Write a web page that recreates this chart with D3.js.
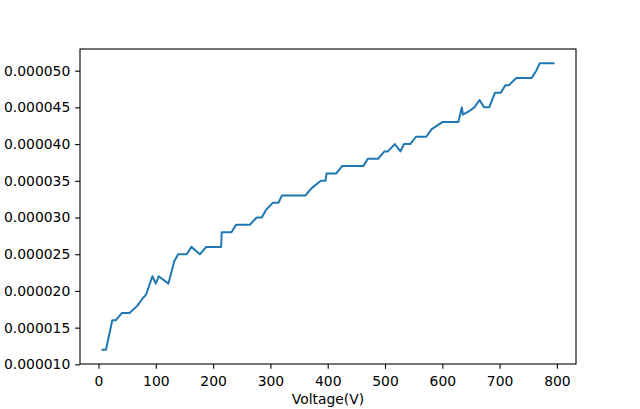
<!DOCTYPE html>
<html>
<head>
<meta charset="utf-8">
<script src="https://cdn.jsdelivr.net/npm/d3@7"></script>
<style>
  body { margin: 0; background: white; }
  svg { display: block; font-family: "DejaVu Sans", sans-serif; }
  .tick text { font-size: 13.9px; fill: black; font-family: "DejaVu Sans", sans-serif; }
  .tick line, .domain { stroke: black; stroke-width: 1.1px; }
  .axis-title { font-size: 13.9px; fill: black; text-anchor: middle; }
  .data-line { fill: none; stroke: #1f77b4; stroke-width: 2px; stroke-linejoin: round; stroke-linecap: square; }
</style>
</head>
<body>
<div id="chart"></div>
<script>
//////////////////////////////////////////////////////////////
//////////////////////// Data ////////////////////////////////
//////////////////////////////////////////////////////////////

//Voltage (V) at each vertex of the line
const voltage = [7, 13, 24, 30, 41, 54, 68, 77, 83, 94, 100, 105, 122, 132, 139, 154, 162, 177, 188, 214, 215, 232, 240, 264, 276, 285, 292, 304, 314, 320, 333, 361, 372, 388, 396, 398, 415, 425, 462, 470, 488, 499, 505, 517, 527, 533, 544, 554, 572, 581, 600, 628, 631, 634, 636, 647, 656, 665, 673, 682, 692, 702, 710, 716, 729, 756, 764, 770, 794]
//Measured value at each voltage
const current = [1.2e-5, 1.2e-5, 1.6e-5, 1.6e-5, 1.7e-5, 1.7e-5, 1.8e-5, 1.9e-5, 1.95e-5, 2.2e-5, 2.1e-5, 2.2e-5, 2.1e-5, 2.4e-5, 2.5e-5, 2.5e-5, 2.6e-5, 2.5e-5, 2.6e-5, 2.6e-5, 2.8e-5, 2.8e-5, 2.9e-5, 2.9e-5, 3.0e-5, 3.0e-5, 3.1e-5, 3.2e-5, 3.2e-5, 3.3e-5, 3.3e-5, 3.3e-5, 3.4e-5, 3.5e-5, 3.5e-5, 3.6e-5, 3.6e-5, 3.7e-5, 3.7e-5, 3.8e-5, 3.8e-5, 3.9e-5, 3.9e-5, 4.0e-5, 3.9e-5, 4.0e-5, 4.0e-5, 4.1e-5, 4.1e-5, 4.2e-5, 4.3e-5, 4.3e-5, 4.4e-5, 4.5e-5, 4.4e-5, 4.45e-5, 4.5e-5, 4.6e-5, 4.5e-5, 4.5e-5, 4.7e-5, 4.7e-5, 4.8e-5, 4.8e-5, 4.9e-5, 4.9e-5, 5.0e-5, 5.1e-5, 5.1e-5]

const xTicks = [0, 100, 200, 300, 400, 500, 600, 700, 800]
const yTicks = [0.00001, 0.000015, 0.00002, 0.000025, 0.00003, 0.000035, 0.00004, 0.000045, 0.00005]
const xTitle = "Voltage(V)"

//////////////////////////////////////////////////////////////
//////////////////////// Create SVG //////////////////////////
//////////////////////////////////////////////////////////////

const W = 640
const H = 409
const margin = { top: 49, right: 64, bottom: 45, left: 80 }
const width = W - margin.left - margin.right
const height = H - margin.top - margin.bottom

const svg = d3.select("#chart")
    .append("svg")
    .attr("width", W)
    .attr("height", H)
    .append("g")
    .attr("transform", "translate(" + margin.left + "," + margin.top + ")")

const data = voltage.map((v, i) => ({ v: v, c: current[i] }))

//Matplotlib-style 5% padding on each side
function padded(ext) {
    const pad = (ext[1] - ext[0]) * 0.05
    return [ext[0] - pad, ext[1] + pad]
}

const x = d3.scaleLinear()
    .domain(padded(d3.extent(voltage)))
    .range([0, width])

const y = d3.scaleLinear()
    .domain(padded(d3.extent(current)))
    .range([height, 0])

//////////////////////////////////////////////////////////////
///////////////////////// Axes ///////////////////////////////
//////////////////////////////////////////////////////////////

const tickLen = 4.86

const xAxis = svg.append("g")
    .attr("transform", "translate(0," + height + ")")
    .call(d3.axisBottom(x).tickValues(xTicks).tickSize(tickLen).tickPadding(tickLen).tickSizeOuter(0))
xAxis.selectAll(".tick text").attr("dy", null).attr("y", 22.3)

const yAxis = svg.append("g")
    .call(d3.axisLeft(y).tickValues(yTicks).tickFormat(d3.format(".6f")).tickSize(tickLen).tickPadding(tickLen).tickSizeOuter(0))

xAxis.select(".domain").remove()
yAxis.select(".domain").remove()

//Frame round the plot area
svg.append("rect")
    .attr("width", width)
    .attr("height", height)
    .style("fill", "none")
    .style("stroke", "black")
    .style("stroke-width", 1.1)

svg.append("text")
    .attr("class", "axis-title")
    .attr("x", width / 2)
    .attr("y", height + 40)
    .text(xTitle)

//////////////////////////////////////////////////////////////
///////////////////////// Line ///////////////////////////////
//////////////////////////////////////////////////////////////

const line = d3.line()
    .x(d => x(d.v))
    .y(d => y(d.c))

svg.append("path")
    .datum(data)
    .attr("class", "data-line")
    .attr("d", line)
</script>
</body>
</html>
